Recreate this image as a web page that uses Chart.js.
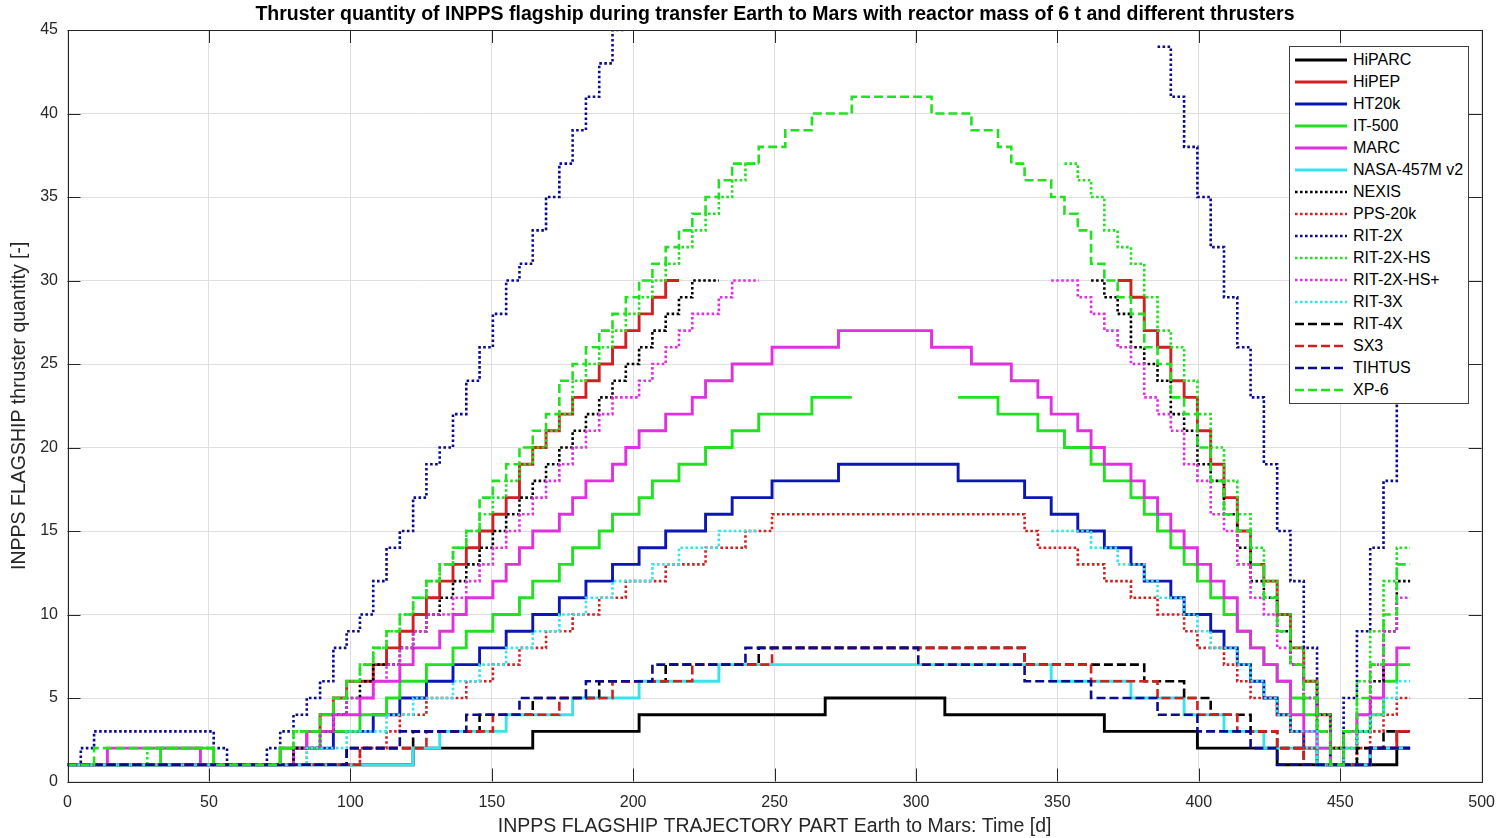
<!DOCTYPE html>
<html>
<head>
<meta charset="utf-8">
<title>INPPS flagship thruster quantity</title>
<script src="https://cdn.jsdelivr.net/npm/chart.js@4.4.1/dist/chart.umd.min.js"></script>
<style>
  html, body { margin: 0; padding: 0; background: #fff; }
  body { font-family: 'Liberation Sans', Arial, Helvetica, sans-serif; }
  #wrap { position: relative; width: 1506px; height: 838px; }
  #chart { position: absolute; left: 0; top: 0; }
  #title { position: absolute; left: 67px; width: 1416px; top: 3px; line-height: 20px; text-align: center;
           font-weight: bold; font-size: 19.5px; color: #000; white-space: nowrap; }
  #legend { position: absolute; left: 1289px; top: 46px; width: 180px; height: 358px; box-sizing: border-box;
            border: 1px solid #404040; background: #fff; padding-top: 2px; }
  .item { height: 22px; display: flex; align-items: center; font-size: 16px; color: #000; white-space: nowrap; }
  .item svg { margin-left: 5px; margin-right: 6px; flex: none; }
</style>
</head>
<body>
<div id="wrap">
  <canvas id="chart" width="1506" height="838"></canvas>
  <div id="title">Thruster quantity of INPPS flagship during transfer Earth to Mars with reactor mass of 6 t and different thrusters</div>
  <div id="legend"></div>
</div>
<script>
// trajectory time steps [d]
const gridDays = [0, 4.7, 9.4, 14.1, 18.8, 23.5, 28.2, 32.9, 37.6, 42.3, 47, 51.7, 56.4, 61.1, 65.8, 70.5,
  75.2, 79.9, 84.6, 89.3, 94, 98.7, 103.4, 108.1, 112.8, 117.5, 122.2, 126.9, 131.6, 136.3, 141, 145.7,
  150.4, 155.1, 159.8, 164.5, 169.2, 173.9, 178.6, 183.3, 188, 192.7, 197.4, 202.1, 206.8, 211.5, 216.2,
  220.9, 225.6, 230.3, 235, 239.7, 244.4, 249.1, 253.8, 258.5, 263.2, 267.9, 272.6, 277.3, 282, 286.7,
  291.4, 296.1, 300.8, 305.5, 310.2, 314.9, 319.6, 324.3, 329, 333.7, 338.4, 343.1, 347.8, 352.5, 357.2,
  361.9, 366.6, 371.3, 376, 380.7, 385.4, 390.1, 394.8, 399.5, 404.2, 408.9, 413.6, 418.3, 423, 427.7,
  432.4, 437.1, 441.8, 446.5, 451.2, 455.9, 460.6, 465.3, 470, 474.7];

const xTicks = [0, 50, 100, 150, 200, 250, 300, 350, 400, 450, 500];
const yTicks = [0, 5, 10, 15, 20, 25, 30, 35, 40, 45];

// each series: time-step index where the quantity changes, and the quantity from there on (null = not drawn)
const hiparcSteps = [0, 26, 35, 43, 57, 66, 78, 85, 91, 100, 101];
const hiparcQty = [1, 2, 3, 4, 5, 4, 3, 2, 1, 2, 2];

const hipepSteps = [0, 16, 18, 19, 20, 21, 23, 24, 25, 26, 27, 28, 29, 30, 31, 32, 33, 34, 35, 36, 37, 38, 39,
  40, 41, 42, 43, 44, 45, 46, 79, 80, 81, 82, 83, 84, 85, 86, 87, 88, 89, 90, 91, 92, 93, 94, 95, 96, 98, 100, 101];
const hipepQty = [1, 2, 3, 4, 5, 6, 7, 8, 9, 10, 11, 12, 13, 14, 15, 16, 17, 19, 20, 21, 22, 23, 24,
  25, 26, 27, 28, 29, 30, null, 30, 29, 27, 26, 24, 23, 21, 19, 17, 15, 13, 12, 10, 8, 6, 4, 2, 1, 2, 3, 3];

const ht20kSteps = [0, 17, 20, 23, 25, 27, 29, 31, 33, 35, 37, 39, 41, 43, 45, 48, 50, 53, 58, 67, 72, 74, 76,
  78, 80, 81, 83, 84, 86, 87, 88, 89, 90, 91, 92, 93, 94, 98, 101];
const ht20kQty = [1, 2, 3, 4, 5, 6, 7, 8, 9, 10, 11, 12, 13, 14, 15, 16, 17, 18, 19, 18, 17, 16, 15,
  14, 13, 12, 11, 10, 9, 8, 7, 6, 5, 4, 3, 2, 1, 2, 2];

const it500Steps = [0, 7, 11, 16, 19, 22, 24, 25, 27, 29, 30, 32, 34, 35, 37, 38, 40, 41, 43, 44, 46, 48, 50,
  52, 56, 59, 67, 70, 73, 75, 77, 78, 80, 81, 82, 83, 84, 85, 86, 87, 88, 89, 90, 91, 92, 93, 94, 95, 96, 97,
  98, 99, 100, 101];
const it500Qty = [1, 2, 1, 2, 3, 4, 5, 6, 7, 8, 9, 10, 11, 12, 13, 14, 15, 16, 17, 18, 19, 20, 21,
  22, 23, null, 23, 22, 21, 20, 19, 18, 17, 16, 15, 14, 13, 12, 11, 10, 9, 8, 7, 6, 5, 4, 2, 1, 2, 3,
  4, 6, 7, 7];

const marcSteps = [0, 3, 10, 17, 18, 20, 22, 23, 25, 26, 28, 29, 30, 32, 33, 34, 35, 37, 38, 39, 41, 42, 43,
  45, 47, 48, 50, 53, 58, 65, 68, 71, 73, 74, 76, 77, 78, 80, 81, 82, 83, 84, 85, 86, 87, 88, 89, 90, 91, 92,
  93, 94, 95, 96, 97, 98, 99, 100, 101];
const marcQty = [1, 2, 1, 2, 3, 4, 5, 6, 7, 8, 9, 10, 11, 12, 13, 14, 15, 16, 17, 18, 19, 20, 21,
  22, 23, 24, 25, 26, 27, 26, 25, 24, 23, 22, 21, 20, 19, 18, 17, 16, 15, 14, 13, 12, 11, 9, 8, 7, 6, 4,
  3, 2, 1, 3, 4, 5, 7, 8, 8];

const nasaSteps = [0, 26, 28, 33, 38, 43, 49, 74, 80, 84, 87, 90, 94, 98, 101];
const nasaQty = [1, 2, 3, 4, 5, 6, 7, 6, 5, 4, 3, 2, 1, 2, 2];

const nexisSteps = [0, 17, 19, 20, 21, 22, 23, 25, 26, 27, 28, 29, 30, 31, 32, 33, 34, 35, 36, 37, 38, 39, 40,
  41, 42, 43, 44, 45, 46, 47, 49, 77, 78, 79, 80, 81, 82, 83, 84, 85, 86, 87, 88, 89, 90, 91, 92, 93, 94, 95,
  96, 97, 98, 99, 100, 101];
const nexisQty = [1, 2, 3, 4, 5, 6, 7, 8, 9, 10, 11, 12, 13, 14, 15, 16, 17, 18, 19, 20, 21, 22, 23,
  24, 25, 26, 27, 28, 29, 30, null, 30, 29, 28, 26, 25, 24, 22, 21, 19, 18, 16, 14, 12, 11, 9, 7, 5, 3, 2,
  1, 3, 6, 9, 12, 12];

const ppsSteps = [0, 22, 24, 25, 27, 30, 32, 34, 36, 38, 40, 42, 45, 48, 51, 53, 72, 73, 76, 78, 80, 82, 84,
  85, 87, 88, 89, 91, 92, 93, 94, 97, 98, 99, 100, 101];
const ppsQty = [1, 2, 3, 4, 5, 6, 7, 8, 9, 10, 11, 12, 13, 14, 15, 16, 15, 14, 13, 12, 11, 10, 9,
  8, 7, 6, 5, 4, 3, 2, 1, 2, 3, 4, 5, 5];

const rit2xSteps = [0, 1, 2, 11, 12, 15, 16, 17, 18, 19, 20, 21, 22, 23, 24, 25, 26, 27, 28, 29, 30, 31, 32,
  33, 34, 35, 36, 37, 38, 39, 40, 41, 42, 82, 83, 84, 85, 86, 87, 88, 89, 90, 91, 92, 93, 94, 95, 96, 97, 98,
  99, 100, 101];
const rit2xQty = [1, 2, 3, 2, 1, 2, 3, 4, 5, 6, 8, 9, 10, 12, 14, 15, 17, 19, 20, 22, 24, 26, 28,
  30, 31, 33, 35, 37, 39, 41, 43, 45, null, 44, 41, 38, 35, 32, 29, 26, 23, 19, 15, 12, 8, 4, 1, 5, 9, 14,
  18, 23, 23];

const rit2xHsSteps = [0, 6, 11, 16, 17, 19, 20, 21, 22, 23, 24, 25, 26, 27, 28, 29, 30, 31, 32, 33, 34, 35, 36,
  37, 38, 39, 40, 41, 42, 43, 44, 45, 46, 47, 48, 49, 50, 51, 52, 75, 76, 77, 78, 79, 80, 81, 82, 83, 84, 85,
  86, 87, 88, 89, 90, 91, 92, 93, 94, 95, 96, 97, 98, 99, 100, 101];
const rit2xHsQty = [1, 2, 1, 2, 3, 4, 5, 6, 7, 8, 9, 10, 11, 12, 13, 14, 15, 16, 17, 18, 19, 20, 21,
  22, 24, 25, 26, 27, 28, 29, 30, 31, 32, 33, 34, 35, 36, 37, null, 37, 36, 35, 33, 32, 31, 29, 27, 26, 24, 22,
  20, 18, 16, 14, 12, 10, 8, 6, 4, 2, 3, 6, 9, 12, 14, 14];

const rit2xHsPlusSteps = [0, 18, 19, 20, 21, 23, 24, 25, 26, 27, 29, 30, 31, 32, 33, 34, 35, 36, 37, 38, 39,
  40, 41, 43, 44, 45, 46, 47, 49, 50, 52, 74, 76, 77, 78, 79, 80, 81, 82, 83, 84, 85, 86, 87, 88, 89, 90, 91,
  92, 93, 94, 95, 96, 97, 98, 99, 100, 101];
const rit2xHsPlusQty = [1, 2, 3, 4, 5, 6, 7, 8, 9, 10, 11, 12, 13, 14, 15, 16, 17, 18, 19, 20, 21,
  22, 23, 24, 25, 26, 27, 28, 29, 30, null, 30, 29, 28, 27, 26, 25, 23, 22, 21, 19, 18, 16, 15, 13, 11, 10, 8,
  7, 5, 3, 1, 2, 4, 7, 9, 11, 11];

const rit3xSteps = [0, 18, 21, 24, 26, 29, 31, 33, 35, 37, 39, 41, 44, 46, 49, 52, 74, 77, 79, 81, 82, 84, 85,
  86, 88, 89, 90, 91, 92, 94, 96, 97, 98, 99, 100, 101];
const rit3xQty = [1, 2, 3, 4, 5, 6, 7, 8, 9, 10, 11, 12, 13, 14, 15, null, 15, 14, 13, 12, 11, 10, 9,
  8, 7, 6, 5, 4, 3, 1, 2, 3, 4, 5, 6, 6];

const rit4xSteps = [0, 21, 26, 31, 35, 40, 45, 52, 72, 81, 84, 86, 89, 91, 93, 97, 99, 101];
const rit4xQty = [1, 2, 3, 4, 5, 6, 7, 8, 7, 6, 5, 4, 3, 2, 1, 2, 3, 3];

const sx3Steps = [0, 22, 27, 32, 37, 41, 47, 53, 72, 77, 82, 85, 88, 91, 93, 98, 100, 101];
const sx3Qty = [1, 2, 3, 4, 5, 6, 7, 8, 7, 6, 5, 4, 3, 2, 1, 2, 3, 3];

const tihtusSteps = [0, 21, 25, 30, 34, 39, 44, 51, 64, 72, 77, 82, 85, 89, 91, 98, 101];
const tihtusQty = [1, 2, 3, 4, 5, 6, 7, 8, 7, 6, 5, 4, 3, 2, 1, 2, 2];

const xp6Steps = [0, 2, 11, 16, 17, 19, 20, 21, 22, 23, 24, 25, 26, 27, 28, 29, 30, 31, 32, 33, 34, 35, 36,
  37, 38, 39, 40, 41, 42, 43, 44, 45, 46, 47, 48, 49, 50, 52, 54, 56, 59, 65, 68, 70, 71, 72, 74, 75, 76, 77,
  78, 79, 80, 81, 82, 83, 84, 85, 86, 87, 88, 89, 90, 91, 92, 93, 94, 95, 96, 97, 98, 99, 100, 101];
const xp6Qty = [1, 2, 1, 2, 3, 4, 5, 6, 7, 8, 9, 10, 11, 12, 13, 14, 15, 17, 18, 19, 20, 21, 22,
  24, 25, 26, 27, 28, 29, 30, 31, 32, 33, 34, 35, 36, 37, 38, 39, 40, 41, 40, 39, 38, 37, 36, 35, 34, 33, 31,
  30, 29, 28, 26, 25, 23, 22, 20, 18, 16, 15, 13, 11, 9, 7, 5, 3, 1, 3, 5, 7, 10, 13, 13];

const seriesNames = ['HiPARC', 'HiPEP', 'HT20k', 'IT-500', 'MARC', 'NASA-457M v2', 'NEXIS', 'PPS-20k',
  'RIT-2X', 'RIT-2X-HS', 'RIT-2X-HS+', 'RIT-3X', 'RIT-4X', 'SX3', 'TIHTUS', 'XP-6'];
const seriesSteps = [hiparcSteps, hipepSteps, ht20kSteps, it500Steps, marcSteps, nasaSteps, nexisSteps, ppsSteps,
  rit2xSteps, rit2xHsSteps, rit2xHsPlusSteps, rit3xSteps, rit4xSteps, sx3Steps, tihtusSteps, xp6Steps];
const seriesQty = [hiparcQty, hipepQty, ht20kQty, it500Qty, marcQty, nasaQty, nexisQty, ppsQty,
  rit2xQty, rit2xHsQty, rit2xHsPlusQty, rit3xQty, rit4xQty, sx3Qty, tihtusQty, xp6Qty];

const black = '#000000', red = '#d02020', blue = '#0b16b5', navy = '#0b0b8f';
const green = '#22e022', magenta = '#e030e0', cyan = '#38e4ec';
const solid = [], dotted = [2.6, 2.4], dashed = [9, 4];
const lineColors = [black, red, blue, green, magenta, cyan, black, red, navy, green, magenta, cyan, black, red, navy, green];
const lineDashes = [solid, solid, solid, solid, solid, solid, dotted, dotted, dotted, dotted, dotted, dotted, dashed, dashed, dashed, dashed];
const widthOf = dash => dash.length ? 2.6 : 2.9;

// stairs: a quantity holds from its step until the next step
function stairs(steps, qty) {
  const pts = [];
  steps.forEach((s, i) => {
    if (qty[i] === null) pts.push({ x: gridDays[s], y: qty[i - 1] });
    pts.push({ x: gridDays[s], y: qty[i] });
  });
  return pts;
}

const datasets = seriesNames.map((name, i) => ({
  label: name,
  data: stairs(seriesSteps[i], seriesQty[i]),
  stepped: 'before',
  borderColor: lineColors[i],
  borderDash: lineDashes[i],
  borderWidth: widthOf(lineDashes[i]),
  borderJoinStyle: 'miter',
  borderCapStyle: 'butt',
  pointRadius: 0,
  fill: false,
  spanGaps: false,
  order: seriesNames.length - i   // later series drawn on top
}));

const tickFont = { family: "'Liberation Sans', Arial, sans-serif", size: 16 };
const labelFont = { family: "'Liberation Sans', Arial, sans-serif", size: 19.5 };
const axisInk = '#262626';

// box round the axes with inward tick marks
const axesBox = {
  id: 'axesBox',
  afterDatasetsDraw(chart) {
    const { ctx, chartArea: a, scales: { x, y } } = chart;
    const len = 13;
    ctx.save();
    ctx.strokeStyle = axisInk;
    ctx.lineWidth = 1;
    ctx.beginPath();
    xTicks.forEach(v => {
      const px = Math.round(x.getPixelForValue(v)) + 0.5;
      ctx.moveTo(px, a.bottom); ctx.lineTo(px, a.bottom - len);
      ctx.moveTo(px, a.top); ctx.lineTo(px, a.top + len);
    });
    yTicks.forEach(v => {
      const py = Math.round(y.getPixelForValue(v)) + 0.5;
      ctx.moveTo(a.left, py); ctx.lineTo(a.left + len, py);
      ctx.moveTo(a.right, py); ctx.lineTo(a.right - len, py);
    });
    ctx.stroke();
    ctx.strokeRect(Math.round(a.left) + 0.5, Math.round(a.top) + 0.5, Math.round(a.right - a.left), Math.round(a.bottom - a.top));
    ctx.restore();
  }
};

new Chart(document.getElementById('chart'), {
  type: 'line',
  data: { datasets },
  options: {
    responsive: false,
    animation: false,
    layout: { padding: { top: 30, right: 23.5, left: 0, bottom: 0 } },
    plugins: { legend: { display: false }, tooltip: { enabled: false } },
    scales: {
      x: {
        type: 'linear', min: 0, max: 500,
        afterBuildTicks: s => { s.ticks = xTicks.map(v => ({ value: v })); },
        afterFit: s => { s.height = 56.5; },
        ticks: { color: axisInk, font: tickFont, padding: 11, maxRotation: 0 },
        grid: { color: '#dfdfdf', drawTicks: false },
        border: { display: false },
        title: { display: true, text: 'INPPS FLAGSHIP TRAJECTORY PART Earth to Mars: Time [d]', color: axisInk, font: labelFont, padding: { top: 0, bottom: 0 } }
      },
      y: {
        type: 'linear', min: 0, max: 45,
        afterBuildTicks: s => { s.ticks = yTicks.map(v => ({ value: v })); },
        afterFit: s => { s.width = 67.5; },
        ticks: { color: axisInk, font: tickFont, padding: 9.5 },
        grid: { color: '#dfdfdf', drawTicks: false },
        border: { display: false },
        title: { display: true, text: 'INPPS FLAGSHIP thruster quantity [-]', color: axisInk, font: labelFont, padding: { top: 8, bottom: 0 } }
      }
    }
  },
  plugins: [axesBox]
});

// legend box inside the plot, top right
const legend = document.getElementById('legend');
seriesNames.forEach((name, i) => {
  const row = document.createElement('div');
  row.className = 'item';
  const dash = lineDashes[i].length ? ` stroke-dasharray="${lineDashes[i].join(' ')}"` : '';
  row.innerHTML = `<svg width="52" height="6"><line x1="0" y1="3" x2="52" y2="3" stroke="${lineColors[i]}" stroke-width="${widthOf(lineDashes[i])}"${dash}/></svg><span>${name}</span>`;
  legend.appendChild(row);
});
</script>
</body>
</html>
